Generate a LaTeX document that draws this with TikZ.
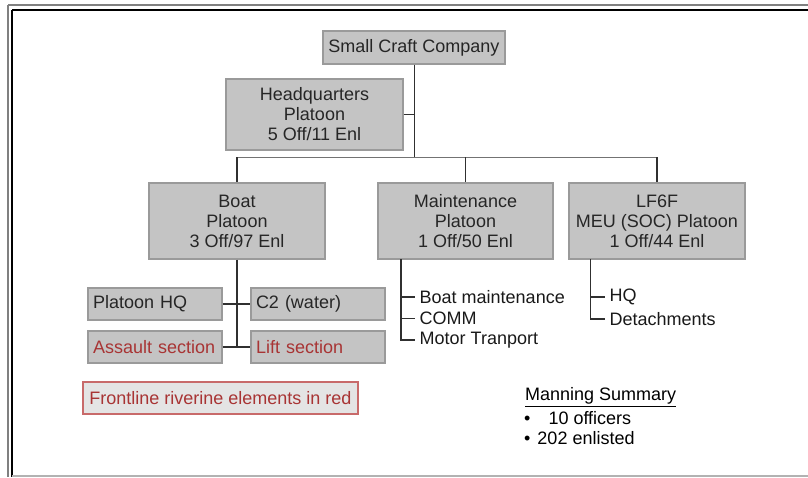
\documentclass[tikz,border=0pt]{standalone}
\usepackage{fontspec}
\setmainfont{Liberation Sans}
\definecolor{boxfill}{HTML}{C4C4C4}
\definecolor{boxline}{HTML}{9A9A9A}
\definecolor{lnk}{HTML}{303030}
\definecolor{redtxt}{HTML}{A83434}
\definecolor{redline}{HTML}{C86A6A}
\definecolor{notefill}{HTML}{E4E4E4}
\begin{document}
\begin{tikzpicture}[x=1pt,y=-1pt,
  font=\fontsize{18}{20}\selectfont,
  orgbox/.style={draw=boxline, fill=boxfill, line width=1.2pt, align=center, inner sep=0pt, text=black!85},
  subbox/.style={orgbox, text width=124pt, inner xsep=5pt, minimum height=32pt, align=left},
  item/.style={anchor=west, inner xsep=4.5pt, inner ysep=0pt, text=black!90},
  link/.style={draw=lnk, line width=1.3pt}]
\useasboundingbox (0,0) rectangle (808,477);
% frame
\draw[draw=gray, line width=1.5pt] (8,5) -- (808,5);
\draw[draw=gray, line width=1.5pt] (8,5) -- (8,477);
\draw[draw=black, line width=2pt] (12,10) -- (808,10);
\draw[draw=black, line width=2pt] (12,10) -- (12,477);
\draw[draw=black!30, line width=1.2pt] (12,476) -- (808,476);
% boxes
\node[orgbox, minimum width=182pt, minimum height=33pt] (scc) at (414,47.5) {Small Craft Company};
\node[orgbox, minimum width=177pt, minimum height=71pt] (hq) at (314.5,114.5) {Headquarters\\Platoon\\5 Off/11 Enl};
\node[orgbox, minimum width=176pt, minimum height=76pt] (boat) at (237,221) {Boat\\Platoon\\3 Off/97 Enl};
\node[orgbox, minimum width=175pt, minimum height=76pt] (maint) at (465.5,221) {Maintenance\\Platoon\\1 Off/50 Enl};
\node[orgbox, minimum width=176pt, minimum height=76pt] (lf) at (657,221) {LF6F\\MEU (SOC) Platoon\\1 Off/44 Enl};
\node[subbox] (phq) at (155,304) {Platoon HQ};
\node[subbox] (c2) at (318,304) {C2 (water)};
\node[subbox, text=redtxt] (ass) at (155,347) {Assault section};
\node[subbox, text=redtxt] (lift) at (318,347) {Lift section};
\node[draw=redline, fill=notefill, line width=1.2pt, minimum width=275pt, minimum height=32pt, inner sep=0pt, text=redtxt] (note) at (220.5,398) {Frontline riverine elements in red};
% list items
\node[item] (bm) at (415,297) {Boat maintenance};
\node[item] (comm) at (415,318.5) {COMM};
\node[item] (mtr) at (415,340) {Motor Tranport};
\node[item] (lhq) at (605,297) {HQ};
\node[item] (det) at (605,319) {Detachments};
% manning summary
\node[anchor=west, inner sep=0pt] (ms) at (525,397) {\underline{Manning Summary}};
\node[anchor=west, inner sep=0pt] (b1) at (524,418) {•\hspace{18pt}10 officers};
\node[anchor=west, inner sep=0pt] (b2) at (524,438.5) {•\hspace{7pt}202 enlisted};
% connectors
\coordinate (busL) at (237,157);
\coordinate (busM) at (414.5,157);
\coordinate (busR) at (657,157);
\coordinate (mt) at (401,259);
\coordinate (lt) at (590.5,259);
\path[link] (scc.south -| busM) -- (busM);
\path[link] (hq.east) -- (hq.east -| busM);
\path[link, line width=1pt, draw=black!55] (busL) -- (busR);
\path[link] (busL) -- (boat.north);
\path[link] (maint.north |- busL) -- (maint.north);
\path[link] (busR) -- (lf.north);
\path[link] (boat.south) -- (boat.south |- ass.east);
\path[link] (phq.east) -- (c2.west);
\path[link] (ass.east) -- (lift.west);
\path[link] (mt) |- (mtr.west);
\path[link] (bm.west -| mt) -- (bm.west);
\path[link] (comm.west -| mt) -- (comm.west);
\path[link] (lt) |- (det.west);
\path[link] (lhq.west -| lt) -- (lhq.west);
\end{tikzpicture}
\end{document}
